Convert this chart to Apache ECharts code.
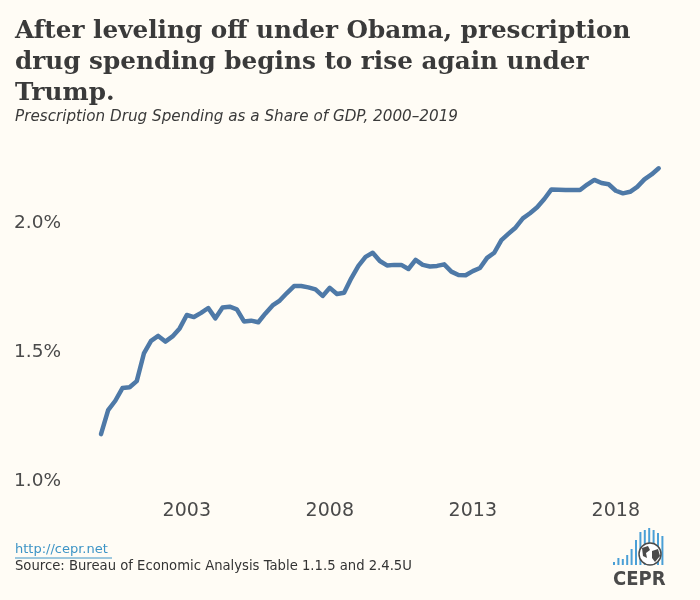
<!DOCTYPE html>
<html>
<head>
<meta charset="utf-8">
<script src="https://cdn.jsdelivr.net/npm/echarts@6/dist/echarts.min.js"></script>
<style>
html,body{margin:0;padding:0;background:#fffcf5;}
#chart{width:700px;height:600px;}
</style>
</head>
<body>
<div id="chart"></div>
<script>
// Quarterly categories 2000Q1 .. 2019Q3
const years = [];
for (let y = 2000; y <= 2019; y++) years.push(y);
const quarters = ['Q1','Q2','Q3','Q4'];
const categories = [];
years.forEach(y => quarters.forEach(q => { if (!(y === 2019 && q === 'Q4')) categories.push(y + q); }));

// Prescription drug spending as % of GDP
const drugShare = [
  1.184, 1.277, 1.313, 1.362,
  1.365, 1.389, 1.496, 1.545,
  1.564, 1.542, 1.562, 1.593,
  1.645, 1.637, 1.653, 1.672,
  1.632, 1.674, 1.677, 1.667,
  1.620, 1.623, 1.617, 1.651,
  1.682, 1.701, 1.730, 1.757,
  1.757, 1.752, 1.744, 1.719,
  1.750, 1.726, 1.731, 1.787,
  1.835, 1.870, 1.886, 1.854,
  1.837, 1.839, 1.839, 1.823,
  1.858, 1.839, 1.833, 1.835,
  1.841, 1.813, 1.800, 1.799,
  1.815, 1.827, 1.866, 1.886,
  1.935, 1.960, 1.984, 2.019,
  2.039, 2.062, 2.094, 2.131,
  2.130, 2.129, 2.129, 2.129,
  2.150, 2.168, 2.156, 2.151,
  2.126, 2.116, 2.122, 2.141,
  2.170, 2.189, 2.213
];

const xTickYears = ['2003', '2008', '2013', '2018'];
const yTicks = [1.0, 1.5, 2.0];

const titleText = 'After leveling off under Obama, prescription\ndrug spending begins to rise again under\nTrump.';
const subtitleText = 'Prescription Drug Spending as a Share of GDP, 2000\u20132019';
const linkText = 'http://cepr.net';
const sourceText = 'Source: Bureau of Economic Analysis Table 1.1.5 and 2.4.5U';

// logo bar heights (decorative)
const logoBars = [3, 7, 6, 10, 16, 25, 33, 35, 37, 35, 32, 29];

const chart = echarts.init(document.getElementById('chart'), null, {renderer: 'canvas'});

const logoX = 613, logoBase = 565;
const logoGraphics = logoBars.map((h, i) => ({
  type: 'rect',
  shape: {x: logoX + i * 4.4, y: logoBase - h, width: 2, height: h},
  style: {fill: '#4a9fd6'}
}));

chart.setOption({
  backgroundColor: '#fffcf5',
  animation: false,
  title: [
    {
      text: titleText,
      left: 15, top: 16, padding: 0,
      textStyle: {fontFamily: 'DejaVu Serif', fontWeight: 'bold', fontSize: 24.7, color: '#3a3a3a', lineHeight: 31}
    },
    {
      text: subtitleText,
      left: 15, top: 110, padding: 0,
      textStyle: {fontFamily: 'DejaVu Sans', fontStyle: 'italic', fontWeight: 'normal', fontSize: 15.2, color: '#3a3a3a'}
    }
  ],
  grid: {left: 101, right: 41.3, top: 145.8, bottom: 118.4, containLabel: false},
  xAxis: {
    type: 'category',
    data: categories,
    boundaryGap: false,
    axisLine: {show: false},
    axisTick: {show: false},
    splitLine: {show: false},
    axisLabel: {
      margin: 20,
      fontFamily: 'DejaVu Sans',
      fontSize: 19,
      color: '#4a4a4a',
      interval: (idx, val) => val.endsWith('Q1') && xTickYears.includes(val.slice(0, 4)),
      formatter: val => val.slice(0, 4)
    }
  },
  yAxis: {
    type: 'value',
    min: yTicks[0],
    max: 2.3,
    interval: 0.5,
    axisLine: {show: false},
    axisTick: {show: false},
    splitLine: {show: false},
    axisLabel: {
      showMaxLabel: false,
      align: 'left',
      margin: 87,
      fontFamily: 'DejaVu Sans',
      fontSize: 18.5,
      color: '#4a4a4a',
      formatter: v => yTicks.some(t => Math.abs(t - v) < 1e-9) ? v.toFixed(1) + '%' : ''
    }
  },
  series: [{
    type: 'line',
    data: drugShare,
    showSymbol: false,
    symbol: 'none',
    lineStyle: {color: '#4e79a7', width: 4.5, cap: 'round', join: 'round'},
    itemStyle: {color: '#4e79a7'}
  }],
  graphic: [
    {type: 'text', left: 15, top: 543, style: {text: linkText, font: '13px "DejaVu Sans"', fill: '#3d94c6'}},
    {type: 'line', shape: {x1: 15, y1: 558, x2: 112, y2: 558}, style: {stroke: '#3d94c6', lineWidth: 1}},
    {type: 'text', left: 15, top: 560, style: {text: sourceText, font: '13.2px "DejaVu Sans"', fill: '#333333'}},
    ...logoGraphics,
    {type: 'circle', shape: {cx: 650, cy: 554, r: 11}, style: {fill: '#ffffff', stroke: '#4a4a4a', lineWidth: 1.5}},
    {type: 'polygon', shape: {points: [[642,548],[648,546],[650,550],[646,553],[647,558],[643,556]]}, style: {fill: '#4a4a4a'}},
    {type: 'polygon', shape: {points: [[652,551],[658,549],[660,556],[655,562],[652,558]]}, style: {fill: '#4a4a4a'}},
    {type: 'text', left: 613, top: 570, style: {text: 'CEPR', font: 'bold 20px "DejaVu Sans Condensed", "DejaVu Sans"', fill: '#4a4a4a'}}
  ]
});
</script>
</body>
</html>
